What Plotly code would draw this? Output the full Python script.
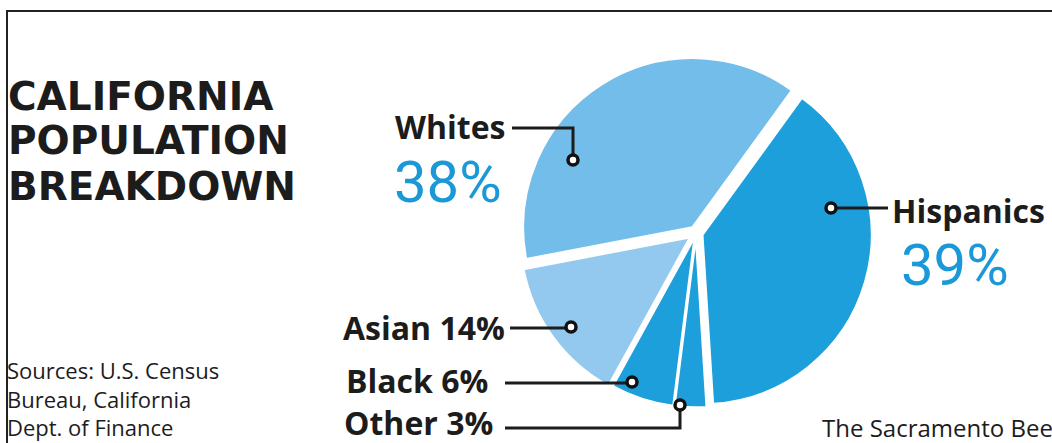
import plotly.graph_objects as go

# ---- data ----
groups = ["Hispanics", "Other", "Black", "Asian", "Whites"]
shares = [39, 3, 6, 14, 38]
colors = ["#1d9fdc", "#1d9fdc", "#1d9fdc", "#93c9ef", "#72bde9"]
pulls = [0.04, 0.03, 0.03, 0.045, 0.04]

title_lines = ["CALIFORNIA", "POPULATION", "BREAKDOWN"]
source_lines = ["Sources: U.S. Census", "Bureau, California", "Dept. of Finance"]
credit_text = "The Sacramento Bee"

W, H = 1052, 443
def X(px):
    return px / W
def Y(py):
    return 1 - py / H

BLUE = "#1a98d8"
INK = "#1c1c1c"

fig = go.Figure()
fig.add_trace(go.Pie(
    labels=groups, values=shares, sort=False, direction="clockwise", rotation=36,
    pull=pulls, textinfo="none", hoverinfo="label+percent",
    marker=dict(colors=colors, line=dict(color="white", width=2)),
    domain=dict(x=[X(519.2), X(872.8)], y=[Y(409.8), Y(56.2)]),
    showlegend=False,
))

ann = []
# title
for i, t in enumerate(title_lines):
    ann.append(dict(x=X(6), y=Y(96 + 45 * i), xref="paper", yref="paper",
                    xanchor="left", yanchor="middle", showarrow=False,
                    text=t, font=dict(family="DejaVu Sans", size=39, color=INK, weight=700)))
# sources
ann.append(dict(x=X(5), y=Y(398), xref="paper", yref="paper",
                xanchor="left", yanchor="middle", showarrow=False, align="left",
                text="<br>".join(source_lines),
                font=dict(family="Open Sans", size=22, color=INK)))
ann.append(dict(x=X(820), y=Y(427), xref="paper", yref="paper", xanchor="left", yanchor="middle",
                showarrow=False, text=credit_text, font=dict(family="Open Sans", size=24, color=INK)))

lab_font = dict(family="Open Sans", size=32, color=INK, weight=700)
pct_font = dict(family="Roboto", size=58, color=BLUE)

def label(x, y, text, anchor="right", font=lab_font):
    ann.append(dict(x=X(x), y=Y(y), xref="paper", yref="paper", xanchor=anchor, yanchor="middle",
                    showarrow=False, text=text, font=font))

label(507, 127, "Whites")
label(448, 182, "38%", anchor="center", font=pct_font)
label(890, 210, "Hispanics", anchor="left")
label(955, 265, "39%", anchor="center", font=pct_font)
label(507, 327, "Asian 14%")
label(490, 380, "Black 6%")
label(495, 422, "Other 3%")

shapes = []
def seg(pts):
    path = "M " + " L ".join(f"{X(a)},{Y(b)}" for a, b in pts)
    shapes.append(dict(type="path", xref="paper", yref="paper", path=path,
                       line=dict(color=INK, width=3)))
def dot(cx, cy, r=5):
    shapes.append(dict(type="circle", xref="paper", yref="paper",
                       x0=X(cx - r), x1=X(cx + r), y0=Y(cy + r), y1=Y(cy - r),
                       fillcolor="white", line=dict(color="#111", width=3.5)))

seg([(512, 128), (573, 128), (573, 160)]); dot(573, 160)
seg([(831, 208), (888, 208)]); dot(831, 208)
seg([(510, 328), (571, 328)]); dot(571, 327)
seg([(505, 383), (632, 383)]); dot(632, 382)
seg([(505, 428), (680, 428), (680, 405)]); dot(680, 405)

# frame
shapes.append(dict(type="path", xref="paper", yref="paper",
                   path=f"M {X(7)},{Y(450)} L {X(7)},{Y(11)} L {X(1060)},{Y(11)}",
                   line=dict(color="#222", width=2)))

fig.update_layout(width=W, height=H, margin=dict(l=0, r=0, t=0, b=0),
                  paper_bgcolor="white", plot_bgcolor="white",
                  annotations=ann, shapes=shapes)
fig.write_html("out.html")
